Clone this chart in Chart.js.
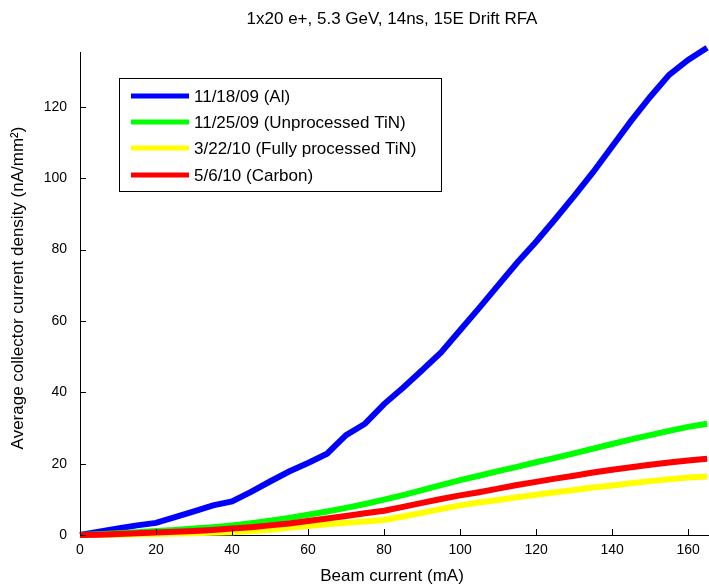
<!DOCTYPE html>
<html>
<head>
<meta charset="utf-8">
<script src="https://cdn.jsdelivr.net/npm/chart.js@4/dist/chart.umd.min.js"></script>
<style>
  html, body { margin: 0; padding: 0; background: #fff; }
  #wrap { width: 709px; height: 587px; }
</style>
</head>
<body>
<div id="wrap"><canvas id="rfa" width="709" height="587"></canvas></div>
<script>
  'use strict';

  /* ── data ── */
  var beamCurrent = [0, 5, 10, 15, 20, 25, 30, 35, 40, 45, 50, 55, 60, 65, 70, 75, 80,
    85, 90, 95, 100, 105, 110, 115, 120, 125, 130, 135, 140, 145, 150, 155, 160, 165];

  var densAl = [0, 0.9, 1.8, 2.7, 3.4, 5.0, 6.6, 8.3, 9.4, 12.1, 15.0, 17.8, 20.2, 22.8,
    28.0, 31.2, 36.7, 41.3, 46.2, 51.2, 57.4, 63.6, 70.0, 76.3, 82.2, 88.5, 95.0, 101.7,
    108.9, 116.1, 122.8, 129.0, 133.2, 136.6];
  var densTiN = [0, 0.2, 0.5, 0.8, 1.1, 1.4, 1.8, 2.2, 2.7, 3.3, 4.0, 4.8, 5.7, 6.6,
    7.6, 8.7, 9.9, 11.2, 12.6, 14.0, 15.4, 16.6, 17.9, 19.1, 20.4, 21.6, 22.9, 24.2,
    25.5, 26.8, 28.0, 29.2, 30.3, 31.2];
  var densTiNProc = [0, 0, 0.1, 0.2, 0.3, 0.4, 0.5, 0.6, 0.8, 1.1, 1.5, 2.0, 2.5, 3.0,
    3.4, 3.8, 4.2, 5.2, 6.2, 7.3, 8.3, 9.1, 9.8, 10.6, 11.3, 12.0, 12.6, 13.3, 13.9,
    14.5, 15.1, 15.6, 16.1, 16.4];
  var densCarbon = [0, 0.1, 0.3, 0.5, 0.7, 0.9, 1.1, 1.4, 1.8, 2.2, 2.7, 3.2, 3.9, 4.6,
    5.3, 6.1, 6.8, 7.9, 9.0, 10.1, 11.1, 12.0, 13.0, 14.0, 14.9, 15.8, 16.6, 17.5, 18.3,
    19.0, 19.7, 20.3, 20.9, 21.4];

  var xTickValues = [0, 20, 40, 60, 80, 100, 120, 140, 160];
  var yTickValues = [0, 20, 40, 60, 80, 100, 120];

  var seriesLabels = ['11/18/09 (Al)', '11/25/09 (Unprocessed TiN)',
    '3/22/10 (Fully processed TiN)', '5/6/10 (Carbon)'];
  var seriesColors = ['#0000ff', '#00ff00', '#ffff00', '#ff0000'];

  var chartTitle = '1x20 e+, 5.3 GeV, 14ns, 15E Drift RFA';
  var xTitle = 'Beam current (mA)';
  var yTitle = 'Average collector current density (nA/mm\u00b2)';

  var FONT = '"Liberation Sans", Arial, sans-serif';

  function toPoints(ys) {
    return beamCurrent.map(function (x, i) { return { x: x, y: ys[i] }; });
  }

  function makeSet(idx, ys, order) {
    return {
      label: seriesLabels[idx],
      data: toPoints(ys),
      borderColor: seriesColors[idx],
      backgroundColor: seriesColors[idx],
      borderWidth: 6,
      pointRadius: 0,
      tension: 0,
      fill: false,
      clip: false,
      order: order
    };
  }

  /* ── inward tick marks (MATLAB style) ── */
  var inwardTicks = {
    id: 'inwardTicks',
    afterDraw: function (chart) {
      var ctx = chart.ctx;
      var xs = chart.scales.x, ys = chart.scales.y;
      var area = chart.chartArea;
      ctx.save();
      ctx.strokeStyle = '#000';
      ctx.lineWidth = 1;
      ctx.beginPath();
      xs.ticks.forEach(function (t) {
        var px = Math.round(xs.getPixelForValue(t.value)) + 0.5;
        ctx.moveTo(px, area.bottom);
        ctx.lineTo(px, area.bottom - 6);
      });
      ys.ticks.forEach(function (t) {
        var py = Math.round(ys.getPixelForValue(t.value)) + 0.5;
        ctx.moveTo(area.left, py);
        ctx.lineTo(area.left + 6, py);
      });
      ctx.stroke();
      ctx.restore();
    }
  };

  /* ── titles + boxed legend ── */
  var labelsAndLegend = {
    id: 'labelsAndLegend',
    afterDraw: function (chart) {
      var ctx = chart.ctx;
      ctx.save();
      ctx.fillStyle = '#000';
      ctx.font = '17px ' + FONT;
      ctx.textAlign = 'center';
      ctx.textBaseline = 'middle';
      ctx.fillText(chartTitle, 392, 19);
      ctx.fillText(xTitle, 392, 576);

      ctx.save();
      ctx.translate(18, 288);
      ctx.rotate(-Math.PI / 2);
      ctx.fillText(yTitle, 0, 0);
      ctx.restore();

      // legend box
      ctx.fillStyle = '#fff';
      ctx.fillRect(119, 78, 322, 113);
      ctx.strokeStyle = '#000';
      ctx.lineWidth = 1;
      ctx.strokeRect(119.5, 78.5, 322, 113);

      var rows = [96, 122, 148, 175];
      ctx.textAlign = 'left';
      seriesLabels.forEach(function (lbl, i) {
        ctx.strokeStyle = seriesColors[i];
        ctx.lineWidth = 5;
        ctx.beginPath();
        ctx.moveTo(131, rows[i]);
        ctx.lineTo(189, rows[i]);
        ctx.stroke();
        ctx.fillStyle = '#000';
        ctx.fillText(lbl, 194, rows[i] + 1);
      });
      ctx.restore();
    }
  };

  function useTicks(values) {
    return function (scale) {
      scale.ticks = values.map(function (v) { return { value: v }; });
    };
  }

  new Chart(document.getElementById('rfa').getContext('2d'), {
    type: 'line',
    data: {
      datasets: [
        makeSet(0, densAl, 3),
        makeSet(1, densTiN, 2),
        makeSet(2, densTiNProc, 1),
        makeSet(3, densCarbon, 0)
      ]
    },
    options: {
      responsive: false,
      animation: false,
      devicePixelRatio: 1,
      layout: { padding: { top: 52, right: 0, bottom: 0, left: 0 } },
      plugins: {
        legend: { display: false },
        title: { display: false },
        tooltip: { enabled: false }
      },
      scales: {
        x: {
          type: 'linear',
          min: 0,
          max: 165.5,
          grid: { display: false, drawTicks: false },
          border: { display: true, color: '#000', width: 1 },
          ticks: {
            color: '#000',
            padding: 7,
            maxRotation: 0,
            autoSkip: false,
            font: { family: FONT, size: 14 }
          },
          afterBuildTicks: useTicks(xTickValues),
          afterFit: function (s) { s.height = 52; }
        },
        y: {
          type: 'linear',
          min: 0,
          max: 135.4,
          grid: { display: false, drawTicks: false },
          border: { display: true, color: '#000', width: 1 },
          ticks: {
            color: '#000',
            padding: 13,
            autoSkip: false,
            font: { family: FONT, size: 14 }
          },
          afterBuildTicks: useTicks(yTickValues),
          afterFit: function (s) { s.width = 80; }
        }
      }
    },
    plugins: [inwardTicks, labelsAndLegend]
  });
</script>
</body>
</html>
